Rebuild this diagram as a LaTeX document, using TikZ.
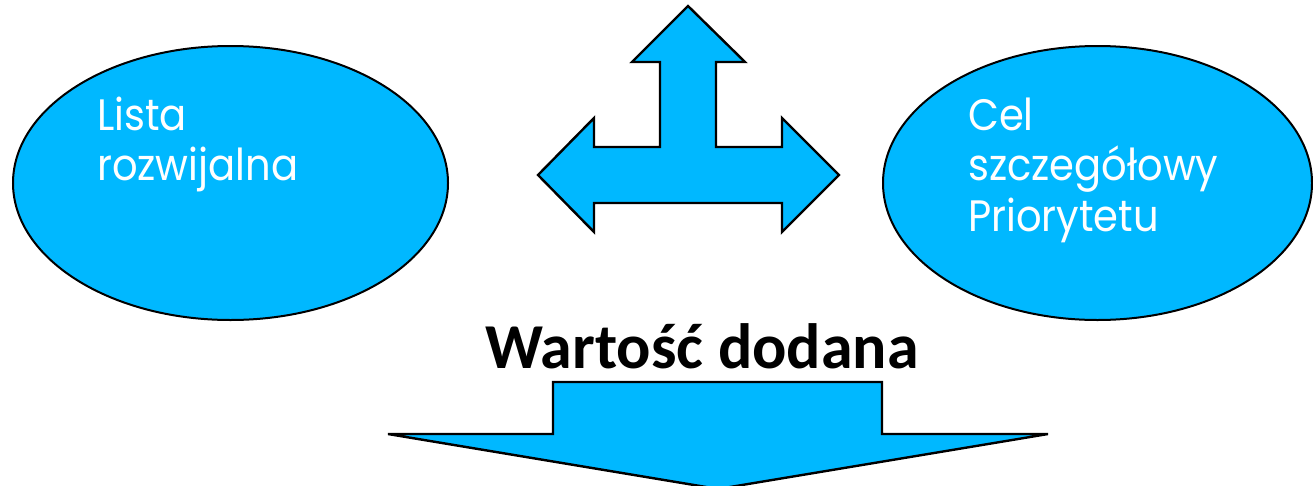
\documentclass[tikz,border=0pt]{standalone}
\usepackage{fontspec}
\setmainfont{Poppins}
\newfontfamily\ovalfont[FakeStretch=0.91]{Poppins}
\newfontfamily\boldfont{Carlito}
\definecolor{skyfill}{RGB}{0,184,255}
\begin{document}
\begin{tikzpicture}[x=1pt,y=-1pt,
  shapefill/.style={fill=skyfill,draw=black,line width=2.4pt,line join=miter},
  ovaltxt/.style={anchor=base west,inner sep=0pt,text=white,font=\ovalfont\fontsize{44}{50}\selectfont},
  titletxt/.style={anchor=base,inner sep=0pt,text=black,font=\boldfont\bfseries\fontsize{64}{70}\selectfont}]
\useasboundingbox (0,0) rectangle (1313,485);
% ellipses
\draw[shapefill,line width=2pt] (230.5,183) ellipse [x radius=217.5, y radius=137];
\draw[shapefill,line width=2pt] (1097.5,183) ellipse [x radius=214.5, y radius=137];
\coordinate (lcen) at (230.5,183);
\coordinate (rcen) at (1097.5,183);
\node[ovaltxt] (l1) at (97,130) {Lista};
\node[ovaltxt] (l2) at (97,180) {rozwijalna};
\node[ovaltxt] (r1) at (968,130) {Cel};
\node[ovaltxt] (r2) at (968,180) {szczegółowy};
\node[ovaltxt] (r3) at (968,231) {Priorytetu};
% three-way arrow
\draw[shapefill] (688,6) -- (745,62) -- (716,62) -- (716,147) -- (782,147) -- (782,118)
  -- (839,175) -- (782,232) -- (782,203) -- (594,203) -- (594,232) -- (538,175)
  -- (594,118) -- (594,147) -- (660,147) -- (660,62) -- (632,62) -- cycle;
% title
\node[titletxt] (title) at (702,368) {Wartość dodana};
% down arrow
\draw[shapefill] (553,382) -- (882,382) -- (882,434) -- (1048,434) -- (718,489)
  -- (388,434) -- (553,434) -- cycle;
\end{tikzpicture}
\end{document}
